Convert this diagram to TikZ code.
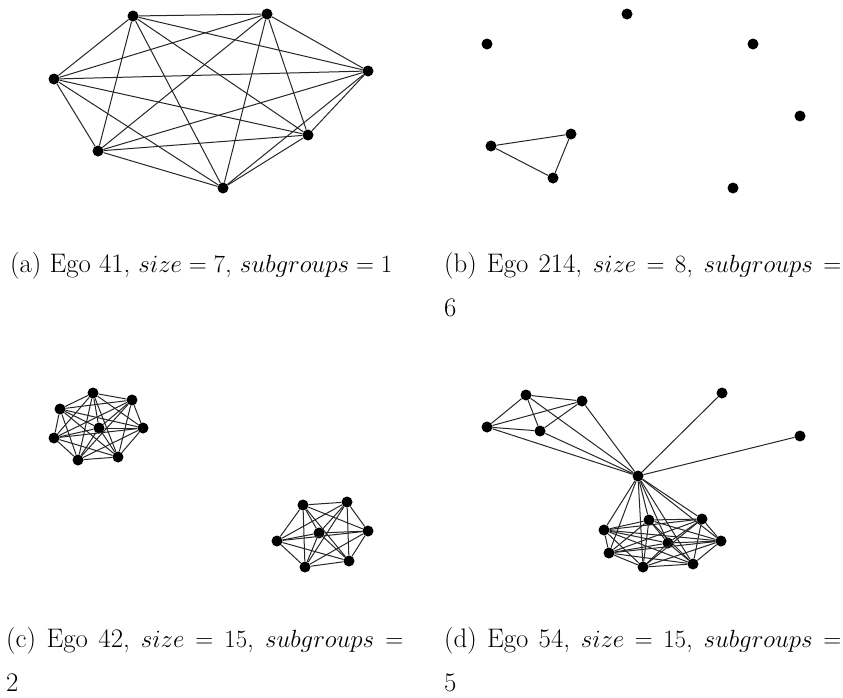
\documentclass[tikz,border=0pt]{standalone}
\usetikzlibrary{backgrounds}
\begin{document}
\begin{tikzpicture}[x=1pt,y=-1pt,
  dot/.style={circle,fill=black,inner sep=0pt,minimum size=11pt},
  edge/.style={line width=1pt,black!85},
  captxt/.style={inner sep=0pt,anchor=base west,font=\fontsize{26.8}{44}\selectfont}]
\useasboundingbox (0,0) rectangle (843,697);
% ---------- (a) ----------
\node[dot] (a1) at (133,16) {};
\node[dot] (a2) at (267,14) {};
\node[dot] (a3) at (368,71) {};
\node[dot] (a4) at (54,79) {};
\node[dot] (a5) at (308,135) {};
\node[dot] (a6) at (98,151) {};
\node[dot] (a7) at (223,188) {};
\foreach \i in {1,...,6}{
  \pgfmathtruncatemacro\k{\i+1}
  \foreach \j in {\k,...,7}{\draw[edge] (a\i) -- (a\j);}}
% ---------- (b) ----------
\node[dot] (b1) at (627,14) {};
\node[dot] (b2) at (487,44) {};
\node[dot] (b3) at (753,44) {};
\node[dot] (b4) at (800,116) {};
\node[dot] (b5) at (571,134) {};
\node[dot] (b6) at (491,146) {};
\node[dot] (b7) at (553,178) {};
\node[dot] (b8) at (733,188) {};
\draw[edge] (b5) -- (b6) -- (b7) -- (b5);
% ---------- (c) ----------
\node[dot] (c1) at (93,393) {};
\node[dot] (c2) at (132,400) {};
\node[dot] (c3) at (60,409) {};
\node[dot] (c4) at (99,428) {};
\node[dot] (c5) at (143,428) {};
\node[dot] (c6) at (54,438) {};
\node[dot] (c7) at (78,460) {};
\node[dot] (c8) at (118,457) {};
\foreach \i in {1,...,7}{
  \pgfmathtruncatemacro\k{\i+1}
  \foreach \j in {\k,...,8}{\draw[edge] (c\i) -- (c\j);}}
\node[dot] (d1) at (303,505) {};
\node[dot] (d2) at (347,502) {};
\node[dot] (d3) at (319,533) {};
\node[dot] (d4) at (368,531) {};
\node[dot] (d5) at (277,541) {};
\node[dot] (d6) at (349,561) {};
\node[dot] (d7) at (305,567) {};
\foreach \i in {1,...,6}{
  \pgfmathtruncatemacro\k{\i+1}
  \foreach \j in {\k,...,7}{\draw[edge] (d\i) -- (d\j);}}
% ---------- (d) ----------
\node[dot] (e1) at (526,395) {};
\node[dot] (e2) at (582,401) {};
\node[dot] (e3) at (487,427) {};
\node[dot] (e4) at (540,431) {};
\node[dot] (f1) at (722,393) {};
\node[dot] (f2) at (800,436) {};
\node[dot] (h) at (638,476) {};
\node[dot] (g1) at (649,520) {};
\node[dot] (g2) at (702,519) {};
\node[dot] (g3) at (604,530) {};
\node[dot] (g4) at (668,543) {};
\node[dot] (g5) at (721,541) {};
\node[dot] (g6) at (609,553) {};
\node[dot] (g7) at (643,567) {};
\node[dot] (g8) at (693,564) {};
\foreach \i in {1,...,3}{
  \pgfmathtruncatemacro\k{\i+1}
  \foreach \j in {\k,...,4}{\draw[edge] (e\i) -- (e\j);}}
\foreach \i in {1,...,7}{
  \pgfmathtruncatemacro\k{\i+1}
  \foreach \j in {\k,...,8}{\draw[edge] (g\i) -- (g\j);}}
\foreach \n in {e1,e2,e3,e4,f1,f2,g1,g2,g3,g4,g5,g6,g7,g8}{\draw[edge] (h) -- (\n);}
% ---------- captions ----------
\node[captxt] (ta) at (10,272) {(a) Ego 41, $size = 7$, $subgroups = 1$};
\node[captxt] (tb) at (444,272) {\hbox to 397pt{(b) Ego 214, $size = 8$, $subgroups =$}};
\node[captxt] (tb2) at (444,316) {6};
\node[captxt] (tc) at (6,647) {\hbox to 397pt{(c) Ego 42, $size = 15$, $subgroups =$}};
\node[captxt] (tc2) at (6,691) {2};
\node[captxt] (td) at (444,647) {\hbox to 397pt{(d) Ego 54, $size = 15$, $subgroups =$}};
\node[captxt] (td2) at (444,691) {5};
\end{tikzpicture}
\end{document}
